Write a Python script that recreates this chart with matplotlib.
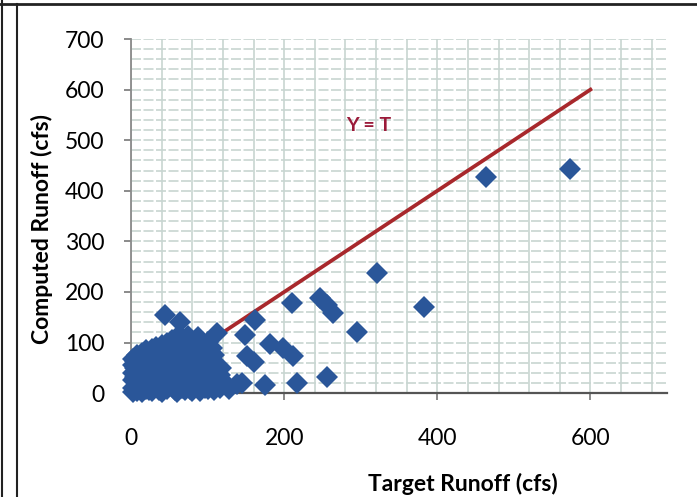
import matplotlib
matplotlib.use("Agg")
import matplotlib.pyplot as plt
from matplotlib.ticker import MultipleLocator
from matplotlib.lines import Line2D

plt.rcParams['font.family'] = ['Lato', 'DejaVu Sans']

# main cluster of small events (target, computed)
cluster_x = [2, 2, 2, 2, 2, 2,
             8, 8, 8, 8, 8, 8,
             14, 14, 14, 14, 14,
             20, 20, 20, 20, 20,
             27, 27, 27, 27, 27, 27,
             33, 33, 33, 33, 33,
             40, 40, 40, 40, 40, 40,
             47, 47, 47, 47, 47,
             54, 54, 54, 54, 54,
             60, 60, 60, 60, 60, 60,
             67, 67, 67, 67, 67,
             74, 74, 74, 74, 74,
             80, 80, 80, 80, 80,
             87, 87, 87, 87, 87,
             94, 94, 94, 94,
             100, 100, 100, 100, 100,
             106, 106, 106, 106,
             112, 112, 112,
             116, 116, 122, 138,
             5, 5, 5, 5, 11, 11, 11, 11, 17, 17, 17, 17,
             24, 24, 24, 24, 30, 30, 30, 30, 37, 37, 37, 37,
             44, 44, 44, 44, 50, 50, 50, 50, 57, 57, 57, 57,
             64, 64, 64, 64, 70, 70, 70, 70, 77, 77, 77, 77,
             84, 84, 84, 84, 90, 90, 90, 90, 97, 97, 97, 97,
             103, 103, 103, 109, 109, 109, 118, 128]
cluster_y = [2, 10, 25, 40, 55, 68,
             5, 18, 30, 48, 62, 75,
             3, 15, 35, 52, 80,
             8, 22, 40, 60, 85,
             4, 18, 30, 50, 70, 88,
             12, 28, 45, 65, 92,
             2, 20, 38, 58, 78, 96,
             8, 30, 50, 72, 100,
             15, 35, 60, 85, 105,
             3, 25, 45, 70, 95, 110,
             10, 32, 55, 80, 108,
             18, 40, 62, 90, 112,
             5, 28, 50, 75, 100,
             12, 35, 60, 88, 110,
             20, 45, 70, 95,
             8, 30, 55, 80, 102,
             15, 40, 65, 90,
             25, 50, 118,
             10, 35, 22, 18,
             12, 32, 50, 64, 8, 25, 42, 70, 12, 30, 48, 72,
             6, 26, 42, 62, 10, 38, 58, 80, 6, 30, 52, 84,
             14, 42, 62, 88, 20, 40, 62, 92, 6, 28, 48, 96,
             14, 36, 58, 100, 6, 24, 46, 98, 8, 30, 52, 102,
             22, 46, 72, 98, 4, 26, 50, 76, 10, 32, 58, 84,
             20, 45, 68, 6, 30, 75, 50, 8]

# larger events
outlier_x = [44, 64, 149, 162, 152, 160, 182, 199, 212, 145, 175, 217, 256,
             210, 247, 256, 264, 295, 321, 382, 463, 573]
outlier_y = [154, 140, 115, 144, 73, 62, 97, 89, 73, 20, 16, 20, 32,
             178, 188, 175, 158, 120, 237, 170, 427, 443]

# 1:1 line
line_x = [0, 600]
line_y = [0, 600]

fig = plt.figure(figsize=(6.97, 4.97), dpi=100)
ax = fig.add_axes([0.188, 0.209, 0.769, 0.7125])

ax.plot(line_x, line_y, color='#a8282c', lw=2.7, zorder=2)
ax.plot(cluster_x + outlier_x, cluster_y + outlier_y, 'D', color='#2a5699',
        markersize=11.5, markeredgewidth=0, zorder=3, clip_on=False)

ax.text(310, 530, 'Y = T', color='#9b1b3a', fontsize=14, fontweight='bold',
        ha='center', va='center')

ax.set_xlim(0, 700)
ax.set_ylim(0, 700)
ax.xaxis.set_major_locator(MultipleLocator(200))
ax.xaxis.set_minor_locator(MultipleLocator(40))
ax.yaxis.set_major_locator(MultipleLocator(100))
ax.yaxis.set_minor_locator(MultipleLocator(20))

ax.grid(True, which='both', axis='x', color='#c8d5d1', lw=1.2, zorder=0)
ax.grid(True, which='both', axis='y', color='#c8d5d1', lw=1.2, ls=(0, (6, 1.5)), zorder=0)
ax.set_axisbelow(True)

for s in ['top', 'right']:
    ax.spines[s].set_visible(False)
ax.spines['left'].set_color('#8a8a8a')
ax.spines['left'].set_linewidth(1.3)
ax.spines['bottom'].set_color('#555555')
ax.spines['bottom'].set_linewidth(1.6)

ax.tick_params(axis='both', which='major', labelsize=16.5, length=5,
               color='#777777', width=1.2)
ax.tick_params(axis='y', which='major', pad=14)
ax.tick_params(axis='x', which='major', pad=20)
ax.tick_params(which='minor', length=0)

fig.text(0.664, 0.027, 'Target Runoff (cfs)', fontsize=16.5, fontweight='bold',
         ha='center', va='center')
fig.text(0.06, 0.54, 'Computed Runoff (cfs)', fontsize=16.5, fontweight='bold',
         ha='center', va='center', rotation=90)

# scanned page frame
fig.add_artist(Line2D([0, 1], [0.992, 0.992], color='#222222', lw=2))
fig.add_artist(Line2D([0.003, 0.003], [0, 1], color='#222222', lw=1.5))
fig.add_artist(Line2D([0.024, 0.024], [0, 0.992], color='#222222', lw=1.5))

fig.savefig('out.png', dpi=100)
